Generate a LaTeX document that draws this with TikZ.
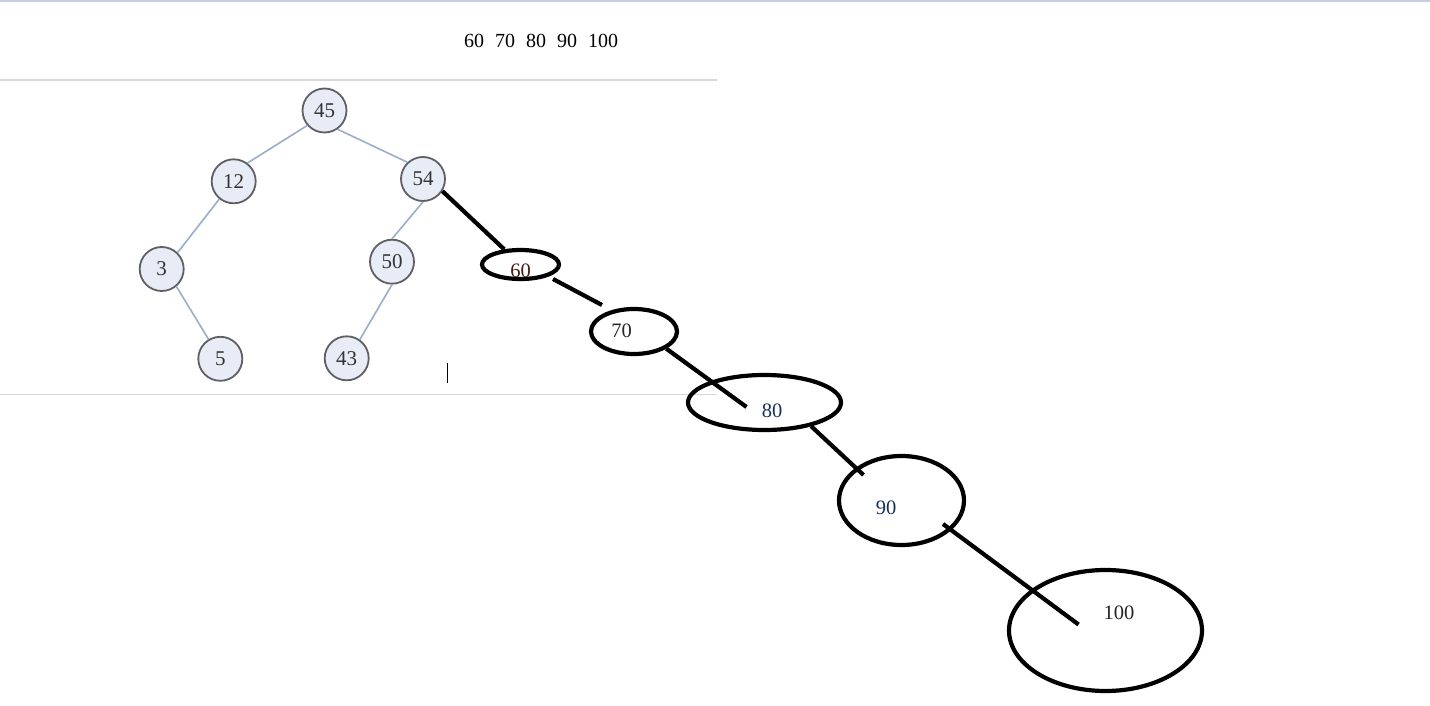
\documentclass[tikz,border=0pt]{standalone}
\usepackage{fontspec}
\setmainfont{Liberation Serif}
\usepackage{xcolor}
\usepackage{tikz}
\usetikzlibrary{shapes.geometric, calc}
\definecolor{treefill}{RGB}{231,236,246}
\definecolor{treeline}{RGB}{95,95,100}
\definecolor{treeedge}{RGB}{152,174,202}
\definecolor{rulegray}{RGB}{216,216,216}
\definecolor{topbar}{RGB}{197,207,224}
\definecolor{brownish}{RGB}{70,28,14}
\definecolor{bluish}{RGB}{22,50,86}
\tikzset{
treenode/.style={circle, draw=treeline, fill=treefill, line width=1.8pt, minimum size=44pt, inner sep=0pt, font=\fontsize{21}{24}\selectfont, text=black!80},
ring/.style={ellipse, draw=black, line width=4.2pt, inner sep=0pt},
val/.style={inner sep=0pt, font=\fontsize{20.5}{24}\selectfont}
}

\begin{document}
\begin{tikzpicture}[x=1pt, y=-1pt,
stroke/.style={black, line width=4.2pt},
branch/.style={treeedge, line width=1.6pt},
rule/.style={rulegray, line width=1.6pt}]
\useasboundingbox (0,0) rectangle (1430,706);
\fill[white] (0,0) rectangle (1430,706);
\fill[topbar] (0,0) rectangle (1430,2.5);
\draw[rule] (0,80) -- (717,80);
\draw[rule] (0,394.5) -- (717,394.5);

\node[val, font=\fontsize{20}{24}\selectfont] (seq) at (541,41) {60\hspace{11pt}70\hspace{11pt}80\hspace{11pt}90\hspace{11pt}100};

% the tree
\node[treenode] (n45) at (324.5,110.5) {45};
\node[treenode] (n12) at (233.7,181.3) {12};
\node[treenode] (n54) at (423,179) {54};
\node[treenode] (n3) at (161.7,269) {3};
\node[treenode] (n50) at (392,261.7) {50};
\node[treenode] (n5) at (220.3,358.8) {5};
\node[treenode] (n43) at (346.7,358.3) {43};
\draw[branch] (n45.-139) -- (n12.53);
\draw[branch] (n45.-55) -- (n54.133);
\draw[branch] (n12.-129) -- (n3.46);
\draw[branch] (n3.-50) -- (n5.121);
\draw[branch] (n54.south) -- (n50.north);
\draw[branch] (n50.south) -- (n43.55);
\draw[black, line width=1.4pt] (447.7,363) -- (447.7,383);

% the added chain
\node[ring, minimum width=77pt, minimum height=29pt] (e60) at (520.5,264.5) {};
\node[ring, minimum width=86pt, minimum height=45pt] (e70) at (634,331.5) {};
\node[ring, minimum width=153pt, minimum height=55pt] (e80) at (764.5,402.5) {};
\node[ring, minimum width=125pt, minimum height=89pt] (e90) at (901.5,500.5) {};
\node[ring, minimum width=193pt, minimum height=121pt] (e100) at (1105.5,630.5) {};
\node[val, text=brownish] (t60) at (520.5,271) {60};
\node[val, text=black!85] (t70) at (621.5,331) {70};
\node[val, text=bluish] (t80) at (772,410.5) {80};
\node[val, text=bluish] (t90) at (886,507.5) {90};
\node[val, text=black!85] (t100) at (1119,612.5) {100};

\coordinate (c60a) at ($(e60)+(32.5,14.5)$);
\coordinate (c70a) at ($(e70)+(-32,-26.5)$);
\coordinate (c80a) at ($(e80)+(-18,4.5)$);
\coordinate (c90a) at ($(e90)+(-38,-25.5)$);
\coordinate (c90b) at ($(e90)+(41.5,23.5)$);
\coordinate (c100a) at ($(e100)+(-27,-6)$);
\draw[stroke] (n54.-32) -- (e60.137);
\draw[stroke] (c60a) -- (c70a);
\draw[stroke] (e70.-28) -- (c80a);
\draw[stroke] (e80.-27) -- (c90a);
\draw[stroke] (c90b) -- (c100a);
\end{tikzpicture}
\end{document}
